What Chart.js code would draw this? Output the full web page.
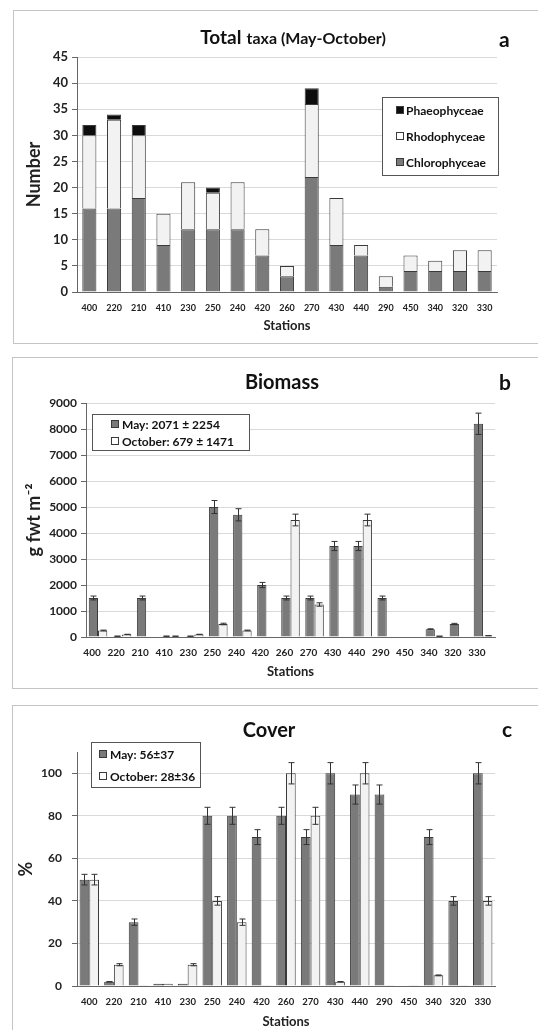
<!DOCTYPE html>
<html lang="en">
<head>
<meta charset="UTF-8">
<title>Taxa, biomass and cover by station</title>
<script src="https://cdn.jsdelivr.net/npm/chart.js@4.4.1/dist/chart.umd.min.js"></script>
<style>
    body { margin: 0; background: #fff; overflow: hidden; width: 538px; height: 1030px; position: relative; }
    .panel { position: absolute; border: 1px solid #c4c4c4; box-sizing: border-box; }
    canvas { position: absolute; left: 0; }
</style>
</head>
<body>

<div class="panel" style="left:13px;top:10px;width:560px;height:334px"></div>
<div class="panel" style="left:12px;top:357px;width:560px;height:332px"></div>
<div class="panel" style="left:12px;top:705px;width:560px;height:360px"></div>

<canvas id="chartA" width="538" height="333" style="top:10px"></canvas>
<canvas id="chartB" width="538" height="331" style="top:357px"></canvas>
<canvas id="chartC" width="538" height="325" style="top:705px"></canvas>

<script>
    // stations (x tick labels), same order in all three panels
    const stations = ['400', '220', '210', '410', '230', '250', '240', '420', '260', '270', '430', '440', '290', '450', '340', '320', '330'];

    // a - number of taxa per class
    const chloro = [16, 16, 18, 9, 12, 12, 12, 7, 3, 22, 9, 7, 1, 4, 4, 4, 4];
    const rhodo  = [14, 17, 12, 6, 9, 7, 9, 5, 2, 14, 9, 2, 2, 3, 2, 4, 4];
    const phaeo  = [2, 1, 2, 0, 0, 1, 0, 0, 0, 3, 0, 0, 0, 0, 0, 0, 0];

    // b - biomass (g fwt m-2) and error bars
    const biomassMay    = [1500, 30, 1500, 30, 30, 5000, 4700, 2000, 1500, 1500, 3500, 3500, 1500, 0, 300, 500, 8200];
    const biomassMayErr = [75, 5, 75, 5, 5, 250, 235, 100, 75, 75, 175, 175, 75, 0, 15, 25, 410];
    const biomassOct    = [250, 100, 0, 30, 100, 500, 250, 0, 4500, 1250, 0, 4500, 0, 0, 30, 0, 50];
    const biomassOctErr = [15, 5, 0, 2, 5, 30, 15, 0, 225, 65, 0, 225, 0, 0, 2, 0, 3];

    // c - cover (%) and error bars
    const coverMay    = [50, 2, 30, 1, 1, 80, 80, 70, 80, 70, 100, 90, 90, 0, 70, 40, 100];
    const coverMayErr = [2.5, 0.1, 1.5, 0, 0, 4, 4, 3.5, 4, 3.5, 5, 4.5, 4.5, 0, 3.5, 2, 5];
    const coverOct    = [50, 10, 0.3, 1, 10, 40, 30, 0.3, 100, 80, 2, 100, 0.3, 0.3, 5, 0.3, 40];
    const coverOctErr = [2.5, 0.5, 0, 0, 0.5, 2, 1.5, 0, 5, 4, 0.1, 5, 0, 0, 0.2, 0, 2];

    const DARK  = '#7a7a7a';
    const LIGHT = '#f2f2f2';
    const BLACK = '#0d0d0d';
    const EDGE  = '#3a3a3a';
    const GRID  = '#d9d9d9';
    const AXIS  = '#666666';

    Chart.defaults.font.family = 'Lato, "Open Sans", sans-serif';
    Chart.defaults.font.weight = 'bold';
    Chart.defaults.color = '#222';

    // error bars, drawn on top of the bars from dataset.errors
    const errorBars = {
        id: 'errorBars',
        afterDatasetsDraw(chart) {
            const ctx = chart.ctx;
            const yScale = chart.scales.y;
            ctx.save();
            ctx.strokeStyle = '#333';
            ctx.lineWidth = 1;
            chart.data.datasets.forEach((ds, i) => {
                if (!ds.errors) return;
                chart.getDatasetMeta(i).data.forEach((bar, j) => {
                    const e = ds.errors[j];
                    if (!e) return;
                    const v = ds.data[j];
                    const x = Math.round(bar.x) + 0.5;
                    const yTop = yScale.getPixelForValue(v + e);
                    const yBot = yScale.getPixelForValue(Math.max(0, v - e));
                    ctx.beginPath();
                    ctx.moveTo(x, yTop); ctx.lineTo(x, yBot);
                    ctx.moveTo(x - 3, yTop); ctx.lineTo(x + 3, yTop);
                    ctx.moveTo(x - 3, yBot); ctx.lineTo(x + 3, yBot);
                    ctx.stroke();
                });
            });
            ctx.restore();
        }
    };

    // title, panel letter and the boxed legend
    const panelDecor = {
        id: 'panelDecor',
        afterDraw(chart, args, opts) {
            const ctx = chart.ctx;
            const fam = Chart.defaults.font.family;
            ctx.save();
            ctx.fillStyle = '#111';
            ctx.textBaseline = 'alphabetic';
            ctx.textAlign = 'left';

            let total = 0;
            opts.title.forEach(p => {
                ctx.font = 'bold ' + p.size + 'px ' + fam;
                p.w = ctx.measureText(p.text).width;
                total += p.w;
            });
            total += (opts.title.length - 1) * 5;
            let x = opts.titleX - total / 2;
            opts.title.forEach(p => {
                ctx.font = 'bold ' + p.size + 'px ' + fam;
                ctx.fillText(p.text, x, opts.titleY);
                x += p.w + 5;
            });

            ctx.font = 'bold 21px ' + fam;
            ctx.fillText(opts.letter, opts.letterX, opts.letterY);

            const lg = opts.legend;
            ctx.strokeStyle = '#555';
            ctx.lineWidth = 1;
            ctx.fillStyle = '#fff';
            ctx.fillRect(lg.x, lg.y, lg.w, lg.h);
            ctx.strokeRect(lg.x + 0.5, lg.y + 0.5, lg.w, lg.h);
            ctx.font = 'bold 12px ' + fam;
            ctx.textBaseline = 'middle';
            lg.order.forEach((di, k) => {
                const ds = chart.data.datasets[di];
                const ry = lg.rows[k];
                ctx.fillStyle = ds.backgroundColor === LIGHT ? '#fff' : ds.backgroundColor;
                ctx.fillRect(lg.swatchX, ry - 4, 8, 8);
                ctx.strokeStyle = EDGE;
                ctx.strokeRect(lg.swatchX + 0.5, ry - 3.5, 7, 7);
                ctx.fillStyle = '#111';
                ctx.fillText(ds.label, lg.textX, ry + 1);
            });
            ctx.restore();
        }
    };

    function barSet(label, data, color, extra) {
        return Object.assign({ label: label, data: data, backgroundColor: color, borderColor: EDGE, borderWidth: 1 }, extra || {});
    }

    // ---- a: total taxa ----
    new Chart(document.getElementById('chartA'), {
        type: 'bar',
        data: {
            labels: stations,
            datasets: [
                barSet('Chlorophyceae', chloro, DARK),
                barSet('Rhodophyceae', rhodo, LIGHT),
                barSet('Phaeophyceae', phaeo, BLACK)
            ]
        },
        options: {
            responsive: false,
            animation: false,
            layout: { padding: { left: 19, right: 41, top: 47, bottom: 5 } },
            datasets: { bar: { categoryPercentage: 0.6, barPercentage: 0.95 } },
            scales: {
                x: {
                    stacked: true,
                    grid: { display: false, drawTicks: false },
                    border: { color: AXIS },
                    ticks: { font: { size: 9 }, padding: 11 },
                    title: { display: true, text: 'Stations', font: { size: 13 } },
                    afterFit: s => { s.height = 46; }
                },
                y: {
                    stacked: true,
                    min: 0, max: 45,
                    ticks: { stepSize: 5, font: { size: 13 }, padding: 4 },
                    grid: { color: GRID, tickColor: AXIS, tickLength: 5 },
                    border: { color: AXIS },
                    title: { display: true, text: 'Number', font: { size: 18 } },
                    afterFit: s => { s.width = 58; }
                }
            },
            plugins: {
                legend: { display: false },
                tooltip: { enabled: false },
                panelDecor: {
                    title: [{ text: 'Total', size: 19 }, { text: 'taxa (May-October)', size: 16 }],
                    titleX: 293, titleY: 34,
                    letter: 'a', letterX: 499, letterY: 37,
                    legend: { x: 382, y: 87, w: 116, h: 78, order: [2, 1, 0], rows: [100, 126, 152], swatchX: 396, textX: 406 }
                }
            }
        },
        plugins: [panelDecor]
    });

    // ---- b: biomass ----
    new Chart(document.getElementById('chartB'), {
        type: 'bar',
        data: {
            labels: stations,
            datasets: [
                barSet('May: 2071 ± 2254', biomassMay, DARK, { errors: biomassMayErr }),
                barSet('October: 679 ± 1471', biomassOct, LIGHT, { errors: biomassOctErr })
            ]
        },
        options: {
            responsive: false,
            animation: false,
            layout: { padding: { left: 19, right: 43, top: 46, bottom: 4 } },
            datasets: { bar: { categoryPercentage: 0.77, barPercentage: 1 } },
            scales: {
                x: {
                    grid: { display: false, drawTicks: false },
                    border: { color: AXIS },
                    ticks: { font: { size: 10 }, padding: 10, labelOffset: -6 },
                    title: { display: true, text: 'Stations', font: { size: 13 } },
                    afterFit: s => { s.height = 47; }
                },
                y: {
                    min: 0, max: 9000,
                    ticks: { stepSize: 1000, font: { size: 12 }, padding: 4, callback: v => String(v) },
                    grid: { color: GRID, tickColor: AXIS, tickLength: 5 },
                    border: { color: AXIS },
                    title: { display: true, text: 'g fwt m⁻²', font: { size: 18 } },
                    afterFit: s => { s.width = 67; }
                }
            },
            plugins: {
                legend: { display: false },
                tooltip: { enabled: false },
                panelDecor: {
                    title: [{ text: 'Biomass', size: 20 }],
                    titleX: 282, titleY: 32,
                    letter: 'b', letterX: 499, letterY: 33,
                    legend: { x: 92, y: 57, w: 157, h: 36, order: [0, 1], rows: [67, 84], swatchX: 111, textX: 122 }
                }
            }
        },
        plugins: [errorBars, panelDecor]
    });

    // ---- c: cover ----
    new Chart(document.getElementById('chartC'), {
        type: 'bar',
        data: {
            labels: stations,
            datasets: [
                barSet('May: 56±37', coverMay, DARK, { errors: coverMayErr }),
                barSet('October: 28±36', coverOct, LIGHT, { errors: coverOctErr })
            ]
        },
        options: {
            responsive: false,
            animation: false,
            layout: { padding: { left: 11, right: 43, top: 47, bottom: 0 } },
            datasets: { bar: { categoryPercentage: 0.79, barPercentage: 1 } },
            scales: {
                x: {
                    grid: { display: false, drawTicks: false },
                    border: { color: AXIS },
                    ticks: { font: { size: 9.5 }, padding: 10 },
                    title: { display: true, text: 'Stations', font: { size: 13 }, padding: { top: 0, bottom: 0 } },
                    afterFit: s => { s.height = 44; }
                },
                y: {
                    min: 0, max: 110,
                    ticks: { stepSize: 20, font: { size: 12 }, padding: 10 },
                    afterBuildTicks: s => { s.ticks = s.ticks.filter(t => t.value <= 100); },
                    grid: { color: GRID, tickColor: AXIS, tickLength: 5 },
                    border: { color: AXIS },
                    title: { display: true, text: '%', font: { size: 18 } },
                    afterFit: s => { s.width = 66; }
                }
            },
            plugins: {
                legend: { display: false },
                tooltip: { enabled: false },
                panelDecor: {
                    title: [{ text: 'Cover', size: 20 }],
                    titleX: 269, titleY: 32,
                    letter: 'c', letterX: 502, letterY: 32,
                    legend: { x: 91, y: 37, w: 109, h: 45, order: [0, 1], rows: [49, 71], swatchX: 99, textX: 110 }
                }
            }
        },
        plugins: [errorBars, panelDecor]
    });
</script>
</body>
</html>
